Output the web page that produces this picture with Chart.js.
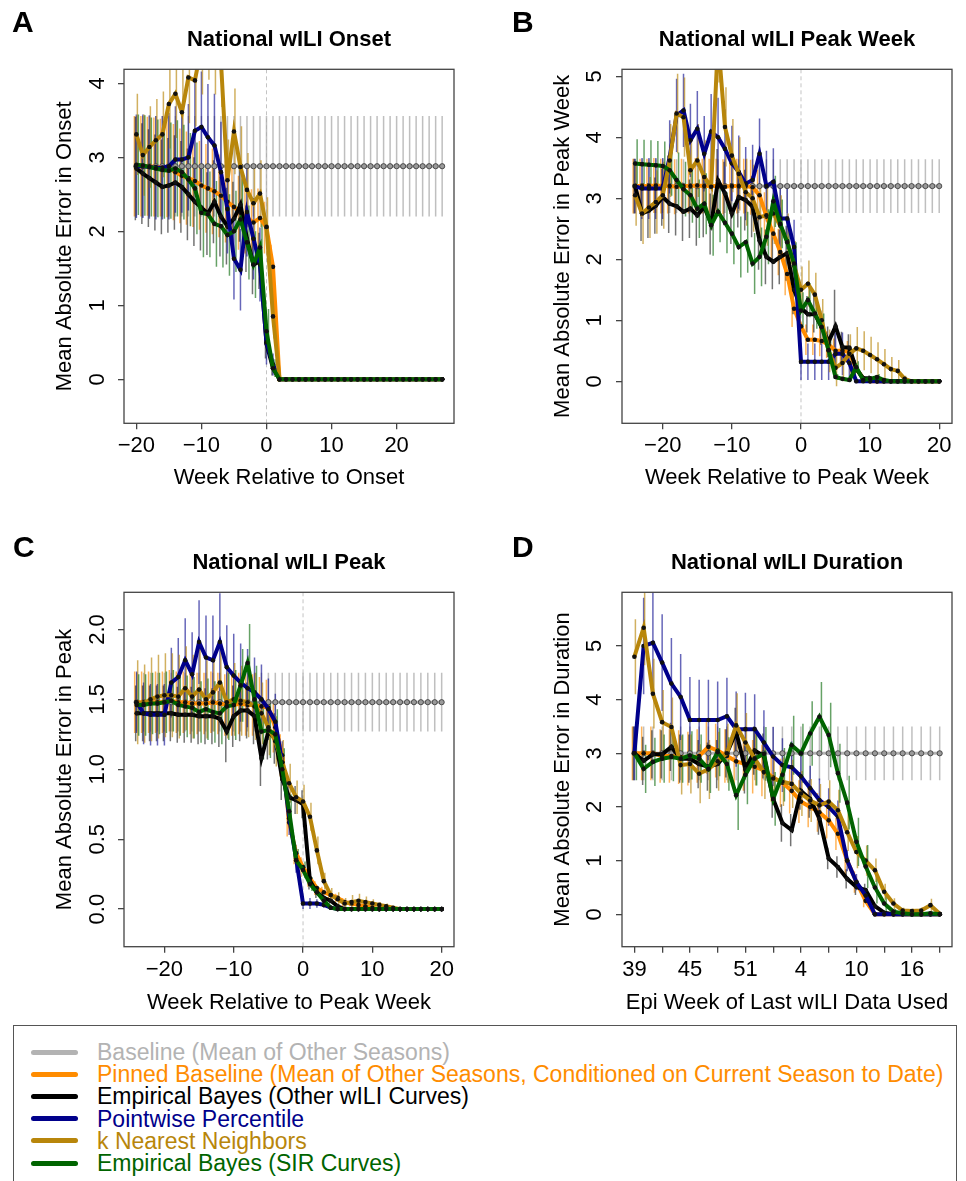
<!DOCTYPE html>
<html>
<head>
<meta charset="utf-8">
<title>National wILI forecast error</title>
<script src="https://cdn.jsdelivr.net/npm/chart.js@4.4.1/dist/chart.umd.min.js"></script>
<style>
  body { margin: 0; width: 966px; height: 1181px; overflow: hidden; position: relative; background: #fff;
         font-family: 'Liberation Sans', Arial, Helvetica, sans-serif; }
  canvas { position: absolute; }
  #legend { position: absolute; left: 13px; top: 1025px; width: 944px; height: 170px;
            border: 1px solid #555; box-sizing: border-box; }
  #legend .swatch { position: absolute; left: 17px; width: 47px; height: 5px; border-radius: 3px; }
  #legend .name { position: absolute; left: 83px; font-size: 23px; line-height: 22px; white-space: nowrap; }
</style>
</head>
<body>
<canvas id="chartA" width="483" height="500" style="left:0;top:0"></canvas>
<canvas id="chartB" width="483" height="500" style="left:483px;top:0"></canvas>
<canvas id="chartC" width="483" height="500" style="left:0;top:520px"></canvas>
<canvas id="chartD" width="483" height="500" style="left:483px;top:520px"></canvas>
<div id="legend"></div>

<script>
// Chart.js global configuration
Chart.defaults.font.family = "'Liberation Sans', Arial, Helvetica, sans-serif";
Chart.defaults.font.size = 22;
Chart.defaults.color = '#000';

// ---- series (same order in every panel) ----
const seriesNames = [
    'Baseline (Mean of Other Seasons)',
    'Pinned Baseline (Mean of Other Seasons, Conditioned on Current Season to Date)',
    'Empirical Bayes (Other wILI Curves)',
    'Pointwise Percentile',
    'k Nearest Neighbors',
    'Empirical Bayes (SIR Curves)'
];
const seriesColors = ['#b3b3b3', '#ff8c00', '#000000', '#00008b', '#b8860b', '#006400'];
const errColors = ['rgba(170,170,170,0.75)', 'rgba(255,140,0,0.65)', 'rgba(0,0,0,0.55)',
                   'rgba(0,0,139,0.6)', 'rgba(184,134,11,0.65)', 'rgba(0,100,0,0.6)'];

// ---- panel A: onset ----
const weeksA = [-20,-19,-18,-17,-16,-15,-14,-13,-12,-11,
    -10,-9,-8,-7,-6,-5,-4,-3,-2,-1,
    0,1,2,3,4,5,6,7,8,9,
    10,11,12,13,14,15,16,17,18,19,
    20,21,22,23,24,25,26,27];
const baselineA = [2.88,2.88,2.88,2.88,2.88,2.88,2.88,2.88,2.88,2.88,
    2.88,2.88,2.88,2.88,2.88,2.88,2.88,2.88,2.88,2.88,
    2.88,2.88,2.88,2.88,2.88,2.88,2.88,2.88,2.88,2.88,
    2.88,2.88,2.88,2.88,2.88,2.88,2.88,2.88,2.88,2.88,
    2.88,2.88,2.88,2.88,2.88,2.88,2.88,2.88];
const pinnedA = [2.88,2.88,2.88,2.87,2.86,2.85,2.80,2.75,2.72,2.68,
    2.62,2.58,2.54,2.48,2.40,2.33,2.25,2.18,2.12,2.18,
    2.05,1.52,0,0,0,0,0,0,0,0,
    0,0,0,0,0,0,0,0,0,0,
    0,0,0,0,0,0,0,0];
const ebOtherA = [2.85,2.78,2.72,2.66,2.60,2.62,2.66,2.60,2.50,2.40,
    2.32,2.24,2.40,2.20,2.07,2.17,2.36,1.90,1.55,1.60,
    0.48,0.15,0,0,0,0,0,0,0,0,
    0,0,0,0,0,0,0,0,0,0,
    0,0,0,0,0,0,0,0];
const pointwiseA = [2.88,2.88,2.87,2.86,2.86,2.88,2.97,2.97,3.00,3.36,
    3.41,3.27,3.16,2.80,2.30,1.63,1.48,2.26,1.90,1.55,
    0.50,0.20,0,0,0,0,0,0,0,0,
    0,0,0,0,0,0,0,0,0,0,
    0,0,0,0,0,0,0,0];
const knnA = [3.31,3.03,3.14,3.23,3.31,3.72,3.86,3.61,4.08,4.04,
    4.50,4.70,4.50,4.30,2.69,3.35,2.87,2.56,2.38,2.51,
    2.06,0.85,0,0,0,0,0,0,0,0,
    0,0,0,0,0,0,0,0,0,0,
    0,0,0,0,0,0,0,0];
const ebSirA = [2.90,2.89,2.87,2.85,2.83,2.82,2.85,2.80,2.70,2.58,
    2.25,2.23,2.10,2.07,1.95,2.00,2.16,1.85,1.55,1.78,
    0.65,0.15,0,0,0,0,0,0,0,0,
    0,0,0,0,0,0,0,0,0,0,
    0,0,0,0,0,0,0,0];
const baselineErrA = [0.68,0.68,0.68,0.68,0.68,0.68,0.68,0.68,0.68,0.68,
    0.68,0.68,0.68,0.68,0.68,0.68,0.68,0.68,0.68,0.68,
    0.68,0.68,0.68,0.68,0.68,0.68,0.68,0.68,0.68,0.68,
    0.68,0.68,0.68,0.68,0.68,0.68,0.68,0.68,0.68,0.68,
    0.68,0.68,0.68,0.68,0.68,0.68,0.68,0.68];
const pinnedErrA = [0.68,0.68,0.67,0.67,0.66,0.66,0.65,0.64,0.63,0.62,
    0.60,0.60,0.58,0.56,0.55,0.53,0.50,0.48,0.45,0.40,
    0.35,0.30,0,0,0,0,0,0,0,0,
    0,0,0,0,0,0,0,0,0,0,
    0,0,0,0,0,0,0,0];
const ebOtherErrA = [0.70,0.68,0.66,0.65,0.64,0.64,0.64,0.62,0.62,0.60,
    0.58,0.56,0.56,0.54,0.52,0.50,0.50,0.45,0.40,0.38,
    0.20,0.10,0,0,0,0,0,0,0,0,
    0,0,0,0,0,0,0,0,0,0,
    0,0,0,0,0,0,0,0];
const pointwiseErrA = [0.70,0.70,0.70,0.70,0.70,0.72,0.72,0.72,0.72,0.75,
    0.75,0.72,0.70,0.68,0.60,0.55,0.55,0.60,0.55,0.50,
    0.30,0.15,0,0,0,0,0,0,0,0,
    0,0,0,0,0,0,0,0,0,0,
    0,0,0,0,0,0,0,0];
const knnErrA = [0.55,0.55,0.55,0.56,0.58,0.60,0.60,0.60,0.62,0.62,
    0.65,0.65,0.65,0.62,0.55,0.58,0.55,0.50,0.48,0.45,
    0.40,0.30,0,0,0,0,0,0,0,0,
    0,0,0,0,0,0,0,0,0,0,
    0,0,0,0,0,0,0,0];
const ebSirErrA = [0.68,0.68,0.67,0.66,0.66,0.65,0.65,0.64,0.63,0.62,
    0.60,0.58,0.58,0.56,0.55,0.55,0.55,0.50,0.45,0.40,
    0.30,0.12,0,0,0,0,0,0,0,0,
    0,0,0,0,0,0,0,0,0,0,
    0,0,0,0,0,0,0,0];

// ---- panels B and C share the week axis ----
const weeksBC = [-24,-23,-22,-21,-20,-19,-18,-17,-16,-15,
    -14,-13,-12,-11,-10,-9,-8,-7,-6,-5,
    -4,-3,-2,-1,0,1,2,3,4,5,
    6,7,8,9,10,11,12,13,14,15,
    16,17,18,19,20];

// ---- panel B: peak week ----
const baselineB = [3.2,3.2,3.2,3.2,3.2,3.2,3.2,3.2,3.2,3.2,
    3.2,3.2,3.2,3.2,3.2,3.2,3.2,3.2,3.2,3.2,
    3.2,3.2,3.2,3.2,3.2,3.2,3.2,3.2,3.2,3.2,
    3.2,3.2,3.2,3.2,3.2,3.2,3.2,3.2,3.2,3.2,
    3.2,3.2,3.2,3.2,3.2];
const pinnedB = [3.20,3.20,3.20,3.21,3.20,3.20,3.19,3.20,3.20,3.21,
    3.20,3.20,3.20,3.19,3.20,3.20,3.20,3.18,3.05,2.70,
    2.42,2.12,1.76,1.19,0.90,0.68,0.68,0.66,0.60,0.50,
    0.50,0.48,0.20,0.05,0,0,0,0,0,0,
    0,0,0,0,0];
const ebOtherB = [3.20,2.75,2.80,2.88,3.02,2.91,2.87,2.78,2.83,2.72,
    2.86,2.58,3.29,3.08,2.75,3.02,2.97,2.86,2.31,2.04,
    1.96,2.04,2.10,1.50,1.20,1.10,1.10,0.88,0.65,0.90,
    0.56,0.55,0.20,0.05,0.05,0,0,0,0,0,
    0,0,0,0,0];
const pointwiseB = [3.20,3.16,3.16,3.16,3.16,3.68,4.36,4.44,3.95,4.14,
    3.73,4.09,4.00,3.81,3.57,3.43,3.24,3.30,3.73,3.20,
    3.27,2.67,2.67,2.20,0.32,0.32,0.32,0.32,0.32,0.45,
    0.45,0.30,0,0,0,0,0,0,0,0,
    0,0,0,0,0];
const knnB = [3.05,2.75,2.85,2.94,3.05,3.62,4.39,4.33,3.46,3.62,
    3.35,3.19,5.60,4.17,3.70,3.40,3.10,3.00,2.69,2.72,
    2.75,2.55,2.30,1.90,1.50,1.60,1.42,1.00,0.50,0.22,
    0.30,0.45,0.54,0.50,0.43,0.36,0.28,0.20,0.17,0.04,
    0,0,0,0,0];
const ebSirB = [3.57,3.56,3.55,3.54,3.53,3.46,3.30,3.15,3.05,2.83,
    2.91,2.56,2.78,2.60,2.42,2.20,2.28,1.93,2.04,2.37,
    2.95,2.58,2.28,1.93,1.16,1.33,1.11,0.89,0.51,0.07,
    0.04,0.02,0.23,0.02,0.04,0.07,0.02,0,0,0,
    0,0,0,0,0];
const baselineErrB = [0.44,0.44,0.44,0.44,0.44,0.44,0.44,0.44,0.44,0.44,
    0.44,0.44,0.44,0.44,0.44,0.44,0.44,0.44,0.44,0.44,
    0.44,0.44,0.44,0.44,0.44,0.44,0.44,0.44,0.44,0.44,
    0.44,0.44,0.44,0.44,0.44,0.44,0.44,0.44,0.44,0.44,
    0.44,0.44,0.44,0.44,0.44];
const pinnedErrB = [0.45,0.45,0.45,0.45,0.45,0.45,0.45,0.45,0.45,0.45,
    0.45,0.45,0.45,0.45,0.45,0.45,0.45,0.45,0.42,0.40,
    0.40,0.38,0.35,0.30,0.28,0.25,0.25,0.25,0.22,0.20,
    0.20,0.18,0.12,0.05,0,0,0,0,0,0,
    0,0,0,0,0];
const ebOtherErrB = [0.45,0.45,0.45,0.46,0.47,0.48,0.48,0.48,0.48,0.50,
    0.50,0.50,0.52,0.52,0.50,0.50,0.50,0.50,0.48,0.45,
    0.45,0.45,0.45,0.40,0.35,0.30,0.30,0.28,0.25,0.60,
    0.25,0.22,0.15,0.05,0.05,0,0,0,0,0,
    0,0,0,0,0];
const pointwiseErrB = [0.45,0.50,0.50,0.50,0.50,0.60,0.60,0.60,0.60,0.62,
    0.62,0.62,0.65,0.65,0.62,0.60,0.60,0.58,0.58,0.58,
    0.55,0.50,0.50,0.45,0.30,0.30,0.30,0.30,0.30,0.35,
    0.35,0.25,0,0,0,0,0,0,0,0,
    0,0,0,0,0];
const knnErrB = [0.50,0.50,0.50,0.52,0.55,0.60,0.65,0.65,0.60,0.60,
    0.60,0.60,0.70,0.65,0.60,0.60,0.55,0.55,0.50,0.50,
    0.50,0.50,0.45,0.40,0.38,0.38,0.36,0.35,0.35,0.30,
    0.30,0.32,0.35,0.32,0.30,0.28,0.25,0.20,0.18,0.05,
    0,0,0,0,0];
const ebSirErrB = [0.40,0.40,0.40,0.40,0.40,0.42,0.45,0.45,0.45,0.48,
    0.50,0.50,0.50,0.50,0.50,0.50,0.50,0.50,0.48,0.45,
    0.42,0.40,0.38,0.35,0.30,0.28,0.25,0.22,0.18,0.05,
    0.03,0.02,0.10,0.02,0.03,0.05,0.02,0,0,0,
    0,0,0,0,0];

// ---- panel C: peak height ----
const baselineC = [1.48,1.48,1.48,1.48,1.48,1.48,1.48,1.48,1.48,1.48,
    1.48,1.48,1.48,1.48,1.48,1.48,1.48,1.48,1.48,1.48,
    1.48,1.48,1.48,1.48,1.48,1.48,1.48,1.48,1.48,1.48,
    1.48,1.48,1.48,1.48,1.48,1.48,1.48,1.48,1.48,1.48,
    1.48,1.48,1.48,1.48,1.48];
const pinnedC = [1.48,1.48,1.48,1.48,1.48,1.49,1.48,1.48,1.47,1.47,
    1.47,1.48,1.47,1.46,1.46,1.47,1.46,1.46,1.45,1.44,
    1.30,1.10,0.62,0.40,0.30,0.22,0.15,0.12,0.10,0.08,
    0.05,0.04,0.03,0.02,0.01,0,0,0,0,0,
    0,0,0,0,0];
const ebOtherC = [1.40,1.40,1.40,1.40,1.40,1.40,1.39,1.39,1.39,1.38,
    1.38,1.38,1.36,1.27,1.38,1.42,1.42,1.38,1.08,1.27,
    1.22,0.93,0.80,0.78,0.75,0.20,0.12,0.08,0.06,0.02,
    0,0,0,0,0,0,0,0,0,0,
    0,0,0,0,0];
const pointwiseC = [1.48,1.40,1.39,1.39,1.39,1.62,1.66,1.78,1.68,1.91,
    1.80,1.78,1.91,1.73,1.67,1.62,1.58,1.55,1.50,1.43,
    1.34,1.05,0.65,0.36,0.04,0.04,0.04,0.03,0.01,0,
    0,0,0,0,0,0,0,0,0,0,
    0,0,0,0,0];
const knnC = [1.48,1.47,1.50,1.52,1.53,1.53,1.52,1.58,1.52,1.57,
    1.50,1.55,1.62,1.48,1.50,1.49,1.48,1.45,1.40,1.30,
    1.20,1.05,0.90,0.80,0.77,0.66,0.42,0.20,0.10,0.07,
    0.04,0.05,0.06,0.05,0.04,0.03,0.02,0.01,0,0,
    0,0,0,0,0];
const ebSirC = [1.46,1.46,1.47,1.47,1.48,1.49,1.46,1.45,1.44,1.41,
    1.43,1.41,1.40,1.45,1.46,1.60,1.76,1.50,1.27,1.28,
    1.25,1.00,0.70,0.35,0.28,0.18,0.12,0.06,0.01,0,
    0,0,0,0,0,0,0,0,0,0,
    0,0,0,0,0];
const baselineErrC = [0.21,0.21,0.21,0.21,0.21,0.21,0.21,0.21,0.21,0.21,
    0.21,0.21,0.21,0.21,0.21,0.21,0.21,0.21,0.21,0.21,
    0.21,0.21,0.21,0.21,0.21,0.21,0.21,0.21,0.21,0.21,
    0.21,0.21,0.21,0.21,0.21,0.21,0.21,0.21,0.21,0.21,
    0.21,0.21,0.21,0.21,0.21];
const pinnedErrC = [0.22,0.22,0.22,0.22,0.22,0.22,0.22,0.22,0.22,0.22,
    0.22,0.22,0.22,0.22,0.22,0.22,0.22,0.22,0.21,0.20,
    0.18,0.15,0.10,0.08,0.07,0.06,0.05,0.04,0.04,0.03,
    0.03,0.02,0.02,0.01,0.01,0,0,0,0,0,
    0,0,0,0,0];
const ebOtherErrC = [0.20,0.20,0.20,0.20,0.20,0.20,0.20,0.20,0.20,0.20,
    0.20,0.20,0.20,0.22,0.22,0.22,0.20,0.20,0.20,0.20,
    0.18,0.15,0.12,0.10,0.10,0.06,0.04,0.03,0.02,0.01,
    0,0,0,0,0,0,0,0,0,0,
    0,0,0,0,0];
const pointwiseErrC = [0.22,0.22,0.22,0.22,0.22,0.25,0.28,0.30,0.30,0.30,
    0.30,0.32,0.35,0.30,0.30,0.28,0.28,0.25,0.25,0.22,
    0.20,0.15,0.12,0.10,0.04,0.04,0.03,0.02,0.01,0,
    0,0,0,0,0,0,0,0,0,0,
    0,0,0,0,0];
const knnErrC = [0.30,0.28,0.30,0.30,0.30,0.30,0.30,0.30,0.30,0.30,
    0.28,0.28,0.30,0.26,0.26,0.25,0.25,0.24,0.22,0.20,
    0.18,0.16,0.14,0.12,0.12,0.10,0.10,0.06,0.05,0.05,
    0.04,0.05,0.05,0.04,0.03,0.02,0.02,0.01,0,0,
    0,0,0,0,0];
const ebSirErrC = [0.22,0.22,0.22,0.22,0.22,0.22,0.22,0.22,0.22,0.22,
    0.22,0.22,0.22,0.24,0.25,0.26,0.28,0.24,0.20,0.20,
    0.18,0.15,0.12,0.08,0.06,0.05,0.03,0.02,0.01,0,
    0,0,0,0,0,0,0,0,0,0,
    0,0,0,0,0];

// ---- panel D: duration (x = week index since epi week 39) ----
const weekIndexD = [0,1,2,3,4,5,6,7,8,9,
    10,11,12,13,14,15,16,17,18,19,
    20,21,22,23,24,25,26,27,28,29,
    30,31,32,33];
const baselineD = [3.0,3.0,3.0,3.0,3.0,3.0,3.0,3.0,3.0,3.0,
    3.0,3.0,3.0,3.0,3.0,3.0,3.0,3.0,3.0,3.0,
    3.0,3.0,3.0,3.0,3.0,3.0,3.0,3.0,3.0,3.0,
    3.0,3.0,3.0,3.0];
const pinnedD = [3.00,3.00,3.00,2.95,2.95,2.93,2.90,2.95,3.12,3.05,
    2.95,2.85,2.80,2.75,2.68,2.55,2.45,2.30,2.10,2.00,
    1.90,1.75,1.50,1.00,0.60,0.25,0,0,0,0,
    0,0,0,0];
const ebOtherD = [3.00,2.86,2.98,2.98,3.12,2.90,2.90,2.80,2.75,2.80,
    3.00,3.40,2.70,3.05,2.95,2.15,1.70,1.57,2.30,2.15,
    1.78,1.04,0.88,0.66,0.51,0.45,0.15,0.03,0,0,
    0,0,0,0];
const pointwiseD = [3.00,5.00,5.06,4.69,4.30,4.05,3.62,3.62,3.62,3.62,
    3.69,3.45,3.45,3.45,3.20,2.94,2.78,2.74,2.57,2.35,
    2.13,2.00,1.82,1.00,0.60,0.35,0,0,0,0,
    0,0,0,0];
const knnD = [4.80,5.34,4.11,3.58,3.49,2.78,2.80,2.62,2.70,2.85,
    3.00,3.52,3.20,2.90,2.65,2.53,2.47,2.43,2.25,2.12,
    2.03,2.10,1.94,1.53,1.16,1.00,0.82,0.42,0.20,0.07,
    0.06,0.07,0.17,0.01];
const ebSirD = [3.00,2.71,2.84,2.90,2.93,2.90,2.96,2.90,2.71,3.02,
    2.80,2.22,2.60,2.90,2.99,2.15,2.60,3.15,3.00,3.37,
    3.68,3.34,2.63,2.08,1.35,0.89,0.50,0.20,0.05,0.02,
    0,0,0.02,0];
const baselineErrD = [0.5,0.5,0.5,0.5,0.5,0.5,0.5,0.5,0.5,0.5,
    0.5,0.5,0.5,0.5,0.5,0.5,0.5,0.5,0.5,0.5,
    0.5,0.5,0.5,0.5,0.5,0.5,0.5,0.5,0.5,0.5,
    0.5,0.5,0.5,0.5];
const pinnedErrD = [0.50,0.50,0.50,0.50,0.50,0.50,0.50,0.50,0.50,0.50,
    0.50,0.50,0.50,0.50,0.48,0.45,0.45,0.42,0.40,0.38,
    0.36,0.34,0.30,0.25,0.20,0.12,0,0,0,0,
    0,0,0,0];
const ebOtherErrD = [0.50,0.45,0.45,0.45,0.45,0.45,0.45,0.45,0.45,0.45,
    0.45,0.45,0.45,0.45,0.42,0.35,0.35,0.30,0.35,0.35,
    0.30,0.20,0.20,0.18,0.15,0.12,0.06,0.02,0,0,
    0,0,0,0];
const pointwiseErrD = [0.50,0.90,0.95,0.90,0.85,0.80,0.80,0.75,0.75,0.72,
    0.72,0.70,0.68,0.65,0.60,0.55,0.50,0.48,0.45,0.42,
    0.40,0.35,0.30,0.20,0.15,0.08,0,0,0,0,
    0,0,0,0];
const knnErrD = [0.70,0.70,0.65,0.60,0.55,0.55,0.55,0.55,0.55,0.55,
    0.55,0.60,0.55,0.50,0.50,0.50,0.45,0.45,0.42,0.40,
    0.40,0.40,0.38,0.35,0.30,0.28,0.22,0.15,0.10,0.05,
    0.05,0.06,0.12,0.02];
const ebSirErrD = [0.50,0.45,0.45,0.45,0.45,0.45,0.45,0.45,0.45,0.45,
    0.50,0.65,0.55,0.50,0.50,0.50,0.50,0.55,0.55,0.60,
    0.65,0.60,0.55,0.50,0.45,0.40,0.30,0.15,0.05,0.02,
    0,0,0.02,0];

// ---- tick positions and labels ----
const xTicksRel = [-20, -10, 0, 10, 20];
const xLabelsRel = ['\u221220', '\u221210', '0', '10', '20'];
const xTicksD = [0, 3, 6, 9, 12, 15, 18, 21, 24, 27, 30, 33];
const xLabelsD = ['39', '', '45', '', '51', '', '4', '', '10', '', '16', ''];
const yTicksA = [0, 1, 2, 3, 4];
const yLabelsA = ['0', '1', '2', '3', '4'];
const yTicksB = [0, 1, 2, 3, 4, 5];
const yLabelsB = ['0', '1', '2', '3', '4', '5'];
const yTicksC = [0, 0.5, 1, 1.5, 2];
const yLabelsC = ['0.0', '0.5', '1.0', '1.5', '2.0'];
const yTicksD = [0, 1, 2, 3, 4, 5];
const yLabelsD = ['0', '1', '2', '3', '4', '5'];

// small horizontal dodge of the error bars, per series (pixels)
const errDodge = [0, -2, -1, 0, 1, 2];

/**
 * Box, zero line, error bars and panel letter
 */
const panelDecor = {
    id: 'panelDecor',
    beforeDatasetsDraw(chart, args, opts) {
        const { ctx, chartArea: a, scales: { x, y } } = chart;
        ctx.save();
        ctx.beginPath();
        ctx.rect(a.left, a.top, a.width, a.height);
        ctx.clip();
        if (opts.zeroLine) {
            const zx = x.getPixelForValue(0);
            ctx.strokeStyle = '#c4c4c4';
            ctx.lineWidth = 1;
            ctx.setLineDash([4, 3]);
            ctx.beginPath();
            ctx.moveTo(zx, a.top);
            ctx.lineTo(zx, a.bottom);
            ctx.stroke();
            ctx.setLineDash([]);
        }
        chart.data.datasets.forEach((ds, k) => {
            ctx.strokeStyle = ds.errColor;
            ctx.lineWidth = 1.5;
            ds.data.forEach((pt, i) => {
                const e = ds.errs[i];
                if (!e) return;
                const px = x.getPixelForValue(pt.x) + errDodge[k];
                ctx.beginPath();
                ctx.moveTo(px, y.getPixelForValue(pt.y - e));
                ctx.lineTo(px, y.getPixelForValue(pt.y + e));
                ctx.stroke();
            });
        });
        ctx.restore();
    },
    afterDraw(chart, args, opts) {
        const { ctx, chartArea: a } = chart;
        ctx.save();
        ctx.strokeStyle = '#444';
        ctx.lineWidth = 1.3;
        ctx.strokeRect(a.left, a.top, a.width, a.height);
        ctx.fillStyle = '#000';
        ctx.font = "bold 30px 'Liberation Sans', Arial, sans-serif";
        ctx.textAlign = 'left';
        ctx.textBaseline = 'alphabetic';
        ctx.fillText(opts.letter, opts.lx, opts.ly);
        ctx.restore();
    }
};

function buildDatasets(xs, vals, errs) {
    return vals.map((v, k) => ({
        label: seriesNames[k],
        data: xs.map((x, i) => ({ x: x, y: v[i] })),
        errs: errs[k],
        errColor: errColors[k],
        borderColor: seriesColors[k],
        backgroundColor: seriesColors[k],
        borderWidth: k === 0 ? 3 : 4,
        pointRadius: k === 0 ? 2.6 : 2.3,
        pointBackgroundColor: k === 0 ? '#9a9a9a' : '#111',
        pointBorderColor: k === 0 ? '#333' : '#111',
        pointBorderWidth: k === 0 ? 0.8 : 0,
        order: 6 - k,
        tension: 0,
        clip: 0
    }));
}

function initPanel(canvasId, p) {
    const ctx = document.getElementById(canvasId).getContext('2d');
    return new Chart(ctx, {
        type: 'line',
        data: { datasets: buildDatasets(p.xs, p.vals, p.errs) },
        options: {
            responsive: false,
            animation: false,
            devicePixelRatio: 1,
            layout: { padding: { left: 0, right: p.padRight, top: 0, bottom: 0 } },
            scales: {
                x: {
                    type: 'linear',
                    min: p.xMin,
                    max: p.xMax,
                    afterBuildTicks: s => { s.ticks = p.xTicks.map(v => ({ value: v })); },
                    afterFit: s => { s.height = p.xAxisH; },
                    ticks: {
                        autoSkip: false, maxRotation: 0, padding: p.xTickPad,
                        callback: (v, i) => p.xLabels[i]
                    },
                    grid: { drawOnChartArea: false, drawTicks: true, tickLength: 6, color: '#444', lineWidth: 1.3 },
                    border: { display: false },
                    title: { display: true, text: p.xTitle, padding: { top: 0, bottom: p.xTitlePad } }
                },
                y: {
                    type: 'linear',
                    min: p.yMin,
                    max: p.yMax,
                    afterBuildTicks: s => { s.ticks = p.yTicks.map(v => ({ value: v })); },
                    afterFit: s => { s.width = p.yAxisW; },
                    ticks: {
                        autoSkip: false, minRotation: 90, maxRotation: 90, crossAlign: 'center',
                        padding: p.yTickPad,
                        callback: (v, i) => p.yLabels[i]
                    },
                    grid: { drawOnChartArea: false, drawTicks: true, tickLength: 6, color: '#444', lineWidth: 1.3 },
                    border: { display: false },
                    title: { display: true, text: p.yTitle, padding: { top: p.yTitlePad, bottom: 0 } }
                }
            },
            plugins: {
                legend: { display: false },
                tooltip: { enabled: false },
                title: {
                    display: true,
                    text: p.title,
                    fullSize: false,
                    font: { size: 22, weight: 'bold' },
                    color: '#000',
                    padding: { top: p.titlePadTop, bottom: p.titlePadBottom }
                },
                panelDecor: { letter: p.letter, lx: p.lx, ly: p.ly, zeroLine: p.zeroLine }
            }
        },
        plugins: [panelDecor]
    });
}

initPanel('chartA', {
    letter: 'A', lx: 12, ly: 32, zeroLine: true,
    title: 'National wILI Onset',
    xTitle: 'Week Relative to Onset',
    yTitle: 'Mean Absolute Error in Onset',
    xs: weeksA,
    vals: [baselineA, pinnedA, ebOtherA, pointwiseA, knnA, ebSirA],
    errs: [baselineErrA, pinnedErrA, ebOtherErrA, pointwiseErrA, knnErrA, ebSirErrA],
    xMin: -21.9, xMax: 28.82, yMin: -0.595, yMax: 4.19,
    xTicks: xTicksRel, xLabels: xLabelsRel, yTicks: yTicksA, yLabels: yLabelsA,
    padRight: 29, yAxisW: 124, xAxisH: 76.7,
    titlePadTop: 26.8, titlePadBottom: 16.1,
    xTickPad: 3.2, xTitlePad: 8.5, yTickPad: 14, yTitlePad: 51.8
});

initPanel('chartB', {
    letter: 'B', lx: 29, ly: 32, zeroLine: true,
    title: 'National wILI Peak Week',
    xTitle: 'Week Relative to Peak Week',
    yTitle: 'Mean Absolute Error in Peak Week',
    xs: weeksBC,
    vals: [baselineB, pinnedB, ebOtherB, pointwiseB, knnB, ebSirB],
    errs: [baselineErrB, pinnedErrB, ebOtherErrB, pointwiseErrB, knnErrB, ebSirErrB],
    xMin: -25.9, xMax: 21.85, yMin: -0.689, yMax: 5.115,
    xTicks: xTicksRel, xLabels: xLabelsRel, yTicks: yTicksB, yLabels: yLabelsB,
    padRight: 14, yAxisW: 139, xAxisH: 76.7,
    titlePadTop: 26.8, titlePadBottom: 16.1,
    xTickPad: 3.2, xTitlePad: 8.5, yTickPad: 14.9, yTitlePad: 66.8
});

initPanel('chartC', {
    letter: 'C', lx: 13, ly: 37, zeroLine: true,
    title: 'National wILI Peak',
    xTitle: 'Week Relative to Peak Week',
    yTitle: 'Mean Absolute Error in Peak',
    xs: weeksBC,
    vals: [baselineC, pinnedC, ebOtherC, pointwiseC, knnC, ebSirC],
    errs: [baselineErrC, pinnedErrC, ebOtherErrC, pointwiseErrC, knnErrC, ebSirErrC],
    xMin: -25.83, xMax: 21.78, yMin: -0.269, yMax: 2.266,
    xTicks: xTicksRel, xLabels: xLabelsRel, yTicks: yTicksC, yLabels: yLabelsC,
    padRight: 29, yAxisW: 124, xAxisH: 73.3,
    titlePadTop: 29.8, titlePadBottom: 16.1,
    xTickPad: 4.1, xTitlePad: 4.1, yTickPad: 4.7, yTitlePad: 51.8
});

initPanel('chartD', {
    letter: 'D', lx: 29, ly: 37, zeroLine: false,
    title: 'National wILI Duration',
    xTitle: 'Epi Week of Last wILI Data Used',
    yTitle: 'Mean Absolute Error in Duration',
    xs: weekIndexD,
    vals: [baselineD, pinnedD, ebOtherD, pointwiseD, knnD, ebSirD],
    errs: [baselineErrD, pinnedErrD, ebOtherErrD, pointwiseErrD, knnErrD, ebSirErrD],
    xMin: -1.34, xMax: 34.33, yMin: -0.604, yMax: 6.0,
    xTicks: xTicksD, xLabels: xLabelsD, yTicks: yTicksD, yLabels: yLabelsD,
    padRight: 14, yAxisW: 139, xAxisH: 73.3,
    titlePadTop: 29.8, titlePadBottom: 16.1,
    xTickPad: 4.1, xTitlePad: 4.1, yTickPad: 14.9, yTitlePad: 66.8
});

// ---- shared legend box ----
const legendBox = document.getElementById('legend');
seriesNames.forEach((name, k) => {
    const cy = 26 + k * 22.2;
    const sw = document.createElement('div');
    sw.className = 'swatch';
    sw.style.top = (cy - 2.5) + 'px';
    sw.style.background = seriesColors[k];
    const tx = document.createElement('div');
    tx.className = 'name';
    tx.style.top = (cy - 11) + 'px';
    tx.style.color = seriesColors[k];
    tx.textContent = name;
    legendBox.appendChild(sw);
    legendBox.appendChild(tx);
});
</script>
</body>
</html>
